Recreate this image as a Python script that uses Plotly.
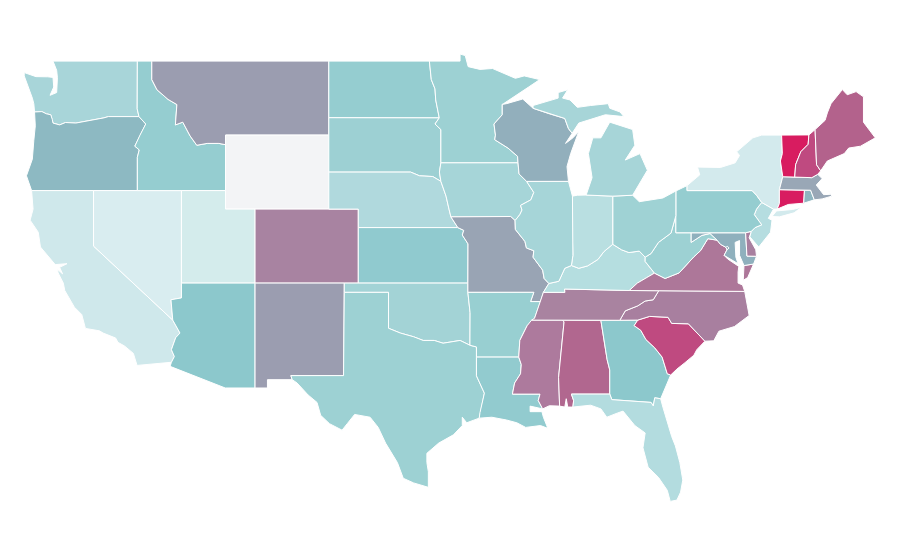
import plotly.graph_objects as go

# State outlines as (lon, lat), read off the picture / rough geography
WA = [(-124.7, 48.38), (-123.9, 48.16), (-123.1, 48.15), (-122.75, 48.12), (-122.7, 47.6), (-122.95, 47.15),
      (-122.5, 47.3), (-122.45, 47.7), (-122.45, 48.1), (-122.5, 48.5), (-122.75, 49.0), (-117.03, 49.0),
      (-117.04, 46.42), (-116.92, 46.0), (-119.0, 46.0), (-119.3, 45.93), (-120.0, 45.82), (-120.6, 45.73),
      (-121.2, 45.65), (-121.9, 45.68), (-122.3, 45.55), (-122.75, 45.65), (-122.8, 45.85), (-122.9, 46.1),
      (-123.2, 46.15), (-123.5, 46.27), (-124.0, 46.25), (-124.05, 46.7), (-124.15, 47.0), (-124.4, 47.6),
      (-124.7, 48.2)]
OR = [(-124.0, 46.25), (-123.5, 46.27), (-123.2, 46.15), (-122.9, 46.1), (-122.8, 45.85), (-122.75, 45.65),
      (-122.3, 45.55), (-121.9, 45.68), (-121.2, 45.65), (-120.6, 45.73), (-120.0, 45.82), (-119.3, 45.93),
      (-119.0, 46.0), (-116.92, 46.0), (-116.46, 45.6), (-116.85, 45.0), (-117.2, 44.4), (-116.9, 44.2),
      (-117.03, 43.8), (-117.03, 42.0), (-124.2, 42.0), (-124.55, 42.8), (-124.15, 43.7), (-124.05, 44.7),
      (-123.95, 45.5)]
CA = [(-124.2, 42.0), (-120.0, 42.0), (-120.0, 39.0), (-114.63, 35.0), (-114.14, 34.3), (-114.43, 34.05),
      (-114.72, 33.4), (-114.52, 33.03), (-114.72, 32.72), (-117.05, 32.55), (-117.3, 33.2), (-117.9, 33.6),
      (-118.35, 33.8), (-118.5, 34.03), (-119.35, 34.3), (-119.6, 34.42), (-120.55, 34.55), (-120.8, 35.3),
      (-121.3, 35.7), (-121.95, 36.6), (-122.05, 37.0), (-122.4, 37.55), (-122.45, 37.75), (-122.1, 37.5),
      (-122.3, 37.85), (-121.8, 38.05), (-122.6, 38.0), (-123.6, 38.95), (-123.75, 39.75), (-124.3, 40.4),
      (-124.1, 41.0)]
NV = [(-120.0, 42.0), (-114.04, 42.0), (-114.04, 36.2), (-114.75, 36.1), (-114.63, 35.0), (-120.0, 39.0)]
ID = [(-117.03, 49.0), (-116.05, 49.0), (-116.05, 48.0), (-115.7, 47.45), (-114.95, 46.93), (-114.35, 46.65),
      (-114.45, 45.55), (-113.95, 45.7), (-113.45, 44.95), (-113.0, 44.45), (-112.3, 44.55), (-111.5, 44.55),
      (-111.05, 44.48), (-111.05, 42.0), (-117.03, 42.0), (-117.03, 43.8), (-116.9, 44.2), (-117.2, 44.4),
      (-116.85, 45.0), (-116.46, 45.6), (-116.92, 46.0), (-117.04, 46.42)]
MT = [(-116.05, 49.0), (-104.05, 49.0), (-104.05, 45.0), (-111.05, 45.0), (-111.05, 44.48), (-111.5, 44.55),
      (-112.3, 44.55), (-113.0, 44.45), (-113.45, 44.95), (-113.95, 45.7), (-114.45, 45.55), (-114.35, 46.65),
      (-114.95, 46.93), (-115.7, 47.45), (-116.05, 48.0)]
WY = [(-111.05, 45.0), (-104.05, 45.0), (-104.05, 41.0), (-111.05, 41.0)]
UT = [(-114.04, 42.0), (-111.05, 42.0), (-111.05, 41.0), (-109.05, 41.0), (-109.05, 37.0), (-114.04, 37.0)]
AZ = [(-114.04, 37.0), (-109.05, 37.0), (-109.05, 31.33), (-111.07, 31.33), (-114.81, 32.5), (-114.72, 32.72),
      (-114.52, 33.03), (-114.72, 33.4), (-114.43, 34.05), (-114.14, 34.3), (-114.63, 35.0), (-114.75, 36.1),
      (-114.04, 36.2)]
CO = [(-109.05, 41.0), (-102.05, 41.0), (-102.05, 37.0), (-109.05, 37.0)]
NM = [(-109.05, 37.0), (-103.0, 37.0), (-103.05, 32.0), (-106.62, 32.0), (-106.53, 31.78), (-108.21, 31.78),
      (-108.21, 31.33), (-109.05, 31.33)]
ND = [(-104.05, 49.0), (-97.23, 49.0), (-97.1, 48.0), (-96.85, 47.5), (-96.8, 46.9), (-96.56, 45.93),
      (-104.05, 45.94)]
SD = [(-104.05, 45.94), (-96.56, 45.93), (-96.85, 45.6), (-96.45, 45.3), (-96.45, 43.5), (-96.55, 43.0),
      (-96.45, 42.5), (-97.0, 42.76), (-97.9, 42.8), (-98.5, 43.0), (-104.05, 43.0)]
NE = [(-104.05, 43.0), (-98.5, 43.0), (-97.9, 42.8), (-97.0, 42.76), (-96.45, 42.5), (-96.1, 41.7), (-95.9, 41.0),
      (-95.77, 40.58), (-95.3, 40.0), (-102.05, 40.0), (-102.05, 41.0), (-104.05, 41.0)]
KS = [(-102.05, 40.0), (-95.3, 40.0), (-94.9, 39.85), (-95.0, 39.6), (-94.61, 39.12), (-94.62, 37.0),
      (-102.05, 37.0)]
OK = [(-103.0, 37.0), (-94.62, 37.0), (-94.62, 36.5), (-94.47, 35.4), (-94.48, 33.64), (-95.15, 33.9),
      (-96.3, 33.75), (-96.9, 33.9), (-97.65, 33.9), (-98.3, 34.1), (-99.2, 34.3), (-100.0, 34.56),
      (-100.0, 36.5), (-103.0, 36.5)]
TX = [(-103.0, 36.5), (-100.0, 36.5), (-100.0, 34.56), (-99.2, 34.3), (-98.3, 34.1), (-97.65, 33.9), (-96.9, 33.9),
      (-96.3, 33.75), (-95.15, 33.9), (-94.48, 33.64), (-94.04, 33.55), (-94.04, 33.0),
      (-94.04, 31.99), (-93.5, 31.05), (-93.8, 30.0), (-93.85, 29.7), (-94.7, 29.45), (-95.0, 29.75), (-95.0, 29.3),
      (-95.6, 28.8), (-96.6, 28.35), (-97.4, 27.8), (-97.4, 27.3), (-97.3, 26.8), (-97.3, 25.96), (-98.3, 26.2),
      (-99.0, 26.45), (-99.4, 27.3), (-100.2, 28.35), (-100.7, 29.2), (-101.25, 29.75), (-102.3, 29.9),
      (-102.8, 29.4), (-103.15, 29.05), (-104.0, 29.4), (-104.6, 29.85), (-104.85, 30.55), (-105.45, 30.95),
      (-106.2, 31.6), (-106.53, 31.78), (-106.62, 32.0), (-103.05, 32.0)]
MN = [(-97.23, 49.0), (-95.15, 49.0), (-95.15, 49.38), (-94.8, 49.3), (-94.6, 48.7), (-93.8, 48.55), (-92.95, 48.6),
      (-92.0, 48.3), (-91.4, 48.07), (-90.8, 48.2), (-89.75, 48.0), (-90.5, 47.6), (-91.4, 47.1), (-92.2, 46.7),
      (-92.29, 46.66), (-92.29, 46.1), (-92.85, 45.6), (-92.75, 45.0), (-92.8, 44.75), (-91.9, 44.3),
      (-91.25, 43.85), (-91.22, 43.5), (-96.45, 43.5), (-96.45, 45.3), (-96.85, 45.6), (-96.56, 45.93),
      (-96.8, 46.9), (-96.85, 47.5), (-97.1, 48.0)]
IA = [(-96.45, 43.5), (-91.22, 43.5), (-91.15, 42.9), (-90.64, 42.5), (-90.15, 41.9), (-90.35, 41.5), (-91.05, 41.2),
      (-90.95, 40.95), (-91.1, 40.7), (-91.42, 40.38), (-91.72, 40.6), (-95.77, 40.58), (-95.9, 41.0), (-96.1, 41.7),
      (-96.45, 42.5), (-96.55, 43.0)]
MO = [(-95.77, 40.58), (-91.72, 40.6), (-91.42, 40.38), (-91.4, 39.9), (-90.75, 39.25), (-90.65, 38.9),
      (-90.15, 38.75), (-90.2, 38.4), (-89.55, 37.7), (-89.45, 37.25), (-89.13, 36.98), (-89.5, 36.5), (-89.7, 36.0),
      (-90.37, 36.0), (-90.15, 36.5), (-94.62, 36.5), (-94.62, 37.0), (-94.61, 39.12), (-95.0, 39.6), (-94.9, 39.85),
      (-95.3, 40.0)]
AR = [(-94.62, 36.5), (-90.15, 36.5), (-90.37, 36.0), (-89.7, 36.0), (-90.1, 35.1), (-90.6, 34.7), (-91.1, 33.9),
      (-91.17, 33.0), (-94.04, 33.0), (-94.04, 33.55), (-94.48, 33.64), (-94.47, 35.4)]
LA = [(-94.04, 33.0), (-91.17, 33.0), (-91.0, 32.6), (-91.05, 32.1), (-91.45, 31.6), (-91.6, 31.0), (-89.73, 31.0),
      (-89.85, 30.65), (-89.55, 30.2), (-90.4, 30.35), (-90.4, 30.05), (-89.6, 30.05), (-89.5, 29.75), (-89.2, 29.15),
      (-89.7, 29.3), (-90.7, 29.2), (-91.3, 29.45), (-92.0, 29.6), (-93.0, 29.75), (-93.85, 29.7), (-93.8, 30.0),
      (-93.5, 31.05), (-94.04, 31.99)]
MS = [(-90.3, 35.0), (-88.2, 35.0), (-88.1, 34.9), (-88.47, 31.9), (-88.4, 30.35), (-89.1, 30.37), (-89.55, 30.2),
      (-89.85, 30.65), (-89.73, 31.0), (-91.6, 31.0), (-91.45, 31.6), (-91.05, 32.1), (-91.0, 32.6), (-91.17, 33.0),
      (-91.1, 33.9), (-90.6, 34.7)]
AL = [(-88.2, 35.0), (-85.6, 34.98), (-85.18, 32.87), (-85.0, 32.3), (-85.0, 31.0), (-87.6, 31.0), (-87.45, 30.65),
      (-87.5, 30.3), (-87.85, 30.3), (-87.95, 30.75), (-88.05, 30.3), (-88.4, 30.35), (-88.47, 31.9), (-88.1, 34.9)]
GA = [(-85.6, 34.98), (-83.1, 35.0), (-83.35, 34.7), (-82.9, 34.45), (-82.55, 33.95), (-81.95, 33.5), (-81.45, 33.0),
      (-81.1, 32.1), (-80.87, 32.03), (-81.15, 31.5), (-81.55, 30.75), (-81.95, 30.8), (-82.05, 30.36), (-82.2, 30.55),
      (-84.86, 30.7), (-85.0, 31.0), (-85.0, 32.3), (-85.18, 32.87)]
FL = [(-87.6, 31.0), (-85.0, 31.0), (-84.86, 30.7), (-82.2, 30.55), (-82.05, 30.36), (-81.95, 30.8), (-81.55, 30.75),
      (-81.4, 30.3), (-80.8, 28.7), (-80.55, 28.2), (-80.25, 27.3), (-80.05, 26.35), (-80.2, 25.7), (-80.45, 25.27),
      (-80.9, 25.2), (-81.1, 25.8), (-81.7, 26.5), (-82.4, 27.05), (-82.75, 28.1), (-82.6, 28.9), (-83.3, 29.3),
      (-84.1, 30.08), (-84.5, 29.97), (-85.2, 29.75), (-85.6, 30.2), (-86.3, 30.4), (-87.5, 30.3), (-87.45, 30.65)]
SC = [(-83.1, 35.0), (-82.3, 35.2), (-81.05, 35.15), (-80.8, 34.82), (-79.67, 34.8), (-78.55, 33.86), (-79.1, 33.4),
      (-79.3, 33.1), (-79.9, 32.7), (-80.45, 32.35), (-80.87, 32.03), (-81.1, 32.1), (-81.45, 33.0), (-81.95, 33.5),
      (-82.55, 33.95), (-82.9, 34.45), (-83.35, 34.7)]
NC = [(-84.32, 34.99), (-83.1, 35.0), (-82.3, 35.2), (-81.05, 35.15), (-80.8, 34.82), (-79.67, 34.8), (-78.55, 33.86),
      (-77.95, 33.88), (-77.6, 34.4), (-76.55, 34.65), (-75.55, 35.25), (-75.85, 36.55), (-81.68, 36.59),
      (-82.05, 36.1), (-82.6, 36.03), (-83.1, 35.77), (-83.95, 35.5)]
TN = [(-90.3, 35.0), (-88.2, 35.0), (-85.6, 34.98), (-84.32, 34.99), (-83.95, 35.5), (-83.1, 35.77), (-82.6, 36.03),
      (-82.05, 36.1), (-81.68, 36.59), (-83.68, 36.6), (-88.07, 36.68), (-88.05, 36.5), (-89.5, 36.5), (-89.7, 36.0),
      (-90.1, 35.1)]
KY = [(-89.5, 36.5), (-88.05, 36.5), (-88.07, 36.68), (-83.68, 36.6), (-83.13, 37.0), (-81.97, 37.54), (-82.6, 38.17),
      (-82.6, 38.4), (-83.0, 38.73), (-83.7, 38.65), (-84.2, 38.8), (-84.8, 39.1), (-85.4, 38.7), (-85.8, 38.28),
      (-86.5, 37.93), (-87.1, 37.8), (-87.6, 37.95), (-88.05, 37.8), (-88.45, 37.1), (-89.13, 36.98)]
VA = [(-83.68, 36.6), (-81.68, 36.59), (-75.85, 36.55), (-76.0, 36.9), (-76.3, 37.0), (-76.3, 37.6), (-76.25, 37.9),
      (-77.0, 38.3), (-77.25, 38.5), (-77.05, 38.8), (-77.12, 38.93), (-77.5, 39.1), (-77.72, 39.32), (-78.35, 39.4),
      (-78.85, 38.75), (-79.3, 38.42), (-80.3, 37.55), (-81.25, 37.25), (-81.97, 37.54), (-83.13, 37.0), None,
      (-75.9, 37.95), (-75.25, 38.03), (-75.65, 37.3), (-75.95, 37.15)]
WV = [(-82.6, 38.17), (-81.97, 37.54), (-81.25, 37.25), (-80.3, 37.55), (-79.3, 38.42), (-78.85, 38.75), (-78.35, 39.4),
      (-77.72, 39.32), (-78.2, 39.68), (-78.75, 39.58), (-79.48, 39.2), (-79.48, 39.72), (-80.52, 39.72),
      (-80.52, 40.64), (-80.85, 39.7), (-81.7, 39.2), (-82.2, 38.6), (-82.6, 38.4)]
MD = [(-79.48, 39.72), (-75.79, 39.72), (-75.7, 38.46), (-75.05, 38.45), (-75.25, 38.03), (-75.9, 37.95),
      (-76.2, 38.5), (-76.2, 39.3), (-76.5, 39.2), (-76.45, 38.4), (-76.3, 38.05), (-77.25, 38.5), (-77.05, 38.8),
      (-77.12, 38.93), (-77.5, 39.1), (-77.72, 39.32), (-78.2, 39.68), (-78.75, 39.58), (-79.48, 39.2)]
DC = [(-77.12, 38.93), (-77.04, 39.0), (-76.91, 38.9), (-77.05, 38.8)]
DE = [(-75.79, 39.72), (-75.4, 39.8), (-75.55, 39.45), (-75.1, 38.8), (-75.05, 38.45), (-75.7, 38.46)]
NJ = [(-75.4, 39.8), (-75.15, 40.0), (-74.7, 40.15), (-75.2, 40.7), (-75.05, 41.0), (-74.7, 41.36), (-73.9, 41.0),
      (-74.25, 40.5), (-74.0, 40.4), (-74.1, 39.75), (-74.9, 38.95), (-75.5, 39.5)]
PA = [(-80.52, 41.98), (-79.76, 42.27), (-79.76, 42.0), (-75.35, 42.0), (-75.05, 41.75), (-74.7, 41.36), (-75.05, 41.0),
      (-75.2, 40.7), (-74.7, 40.15), (-75.15, 40.0), (-75.4, 39.8), (-75.79, 39.72), (-80.52, 39.72)]
NY = [(-79.76, 42.27), (-78.9, 42.85), (-79.05, 43.27), (-77.5, 43.25), (-76.5, 43.5), (-76.2, 43.9), (-76.4, 44.1),
      (-75.3, 44.85), (-74.7, 45.0), (-73.35, 45.0), (-73.3, 44.0), (-73.43, 43.6), (-73.27, 42.75), (-73.5, 42.05),
      (-73.5, 41.3), (-73.65, 41.0), (-73.9, 41.0), (-74.7, 41.36), (-75.05, 41.75), (-75.35, 42.0), (-79.76, 42.0),
      None, (-74.0, 40.6), (-73.7, 40.9), (-72.6, 40.98), (-72.0, 41.1), (-72.5, 40.8), (-73.5, 40.58)]
CT = [(-73.5, 42.05), (-71.8, 42.02), (-71.85, 41.32), (-72.9, 41.25), (-73.65, 41.0), (-73.5, 41.3)]
RI = [(-71.8, 42.02), (-71.38, 42.02), (-71.13, 41.5), (-71.85, 41.32)]
MA = [(-73.27, 42.75), (-72.46, 42.73), (-71.3, 42.7), (-70.9, 42.88), (-70.6, 42.65), (-71.0, 42.3), (-70.65, 41.95),
      (-70.5, 41.78), (-70.05, 41.8), (-70.2, 42.07), (-69.95, 41.7), (-70.6, 41.55), (-71.13, 41.5), (-71.38, 42.02),
      (-71.8, 42.02), (-73.5, 42.05)]
VT = [(-73.35, 45.0), (-71.5, 45.01), (-71.55, 44.5), (-72.05, 44.1), (-72.4, 43.4), (-72.46, 42.73), (-73.27, 42.75),
      (-73.43, 43.6), (-73.3, 44.0)]
NH = [(-71.5, 45.01), (-71.08, 45.3), (-70.98, 43.4), (-70.7, 43.07), (-70.9, 42.88), (-71.3, 42.7), (-72.46, 42.73),
      (-72.4, 43.4), (-72.05, 44.1), (-71.55, 44.5)]
ME = [(-71.08, 45.3), (-70.4, 45.8), (-70.25, 46.2), (-70.0, 46.7), (-69.23, 47.46), (-68.9, 47.18), (-68.3, 47.35),
      (-67.8, 47.07), (-67.8, 45.7), (-67.45, 45.3), (-67.0, 44.85), (-68.0, 44.4), (-68.8, 44.3), (-69.1, 44.0),
      (-69.8, 43.75), (-70.25, 43.6), (-70.7, 43.07), (-70.98, 43.4)]
OH = [(-84.8, 41.7), (-83.45, 41.75), (-83.0, 41.4), (-81.4, 41.6), (-80.52, 41.98), (-80.52, 40.64), (-80.85, 39.7),
      (-81.7, 39.2), (-82.2, 38.6), (-82.6, 38.4), (-83.0, 38.73), (-83.7, 38.65), (-84.2, 38.8), (-84.8, 39.1)]
IN = [(-87.53, 41.7), (-87.2, 41.75), (-86.6, 41.76), (-84.8, 41.7), (-84.8, 39.1), (-85.4, 38.7), (-85.8, 38.28),
      (-86.5, 37.93), (-87.1, 37.8), (-87.6, 37.95), (-87.5, 38.5), (-87.53, 39.35)]
IL = [(-90.64, 42.5), (-87.8, 42.5), (-87.53, 41.7), (-87.53, 39.35), (-87.5, 38.5), (-87.6, 37.95), (-88.05, 37.8),
      (-88.45, 37.1), (-89.13, 36.98), (-89.45, 37.25), (-89.55, 37.7), (-90.2, 38.4), (-90.15, 38.75), (-90.65, 38.9),
      (-90.75, 39.25), (-91.4, 39.9), (-91.42, 40.38), (-91.1, 40.7), (-90.95, 40.95), (-91.05, 41.2), (-90.35, 41.5),
      (-90.15, 41.9)]
WI = [(-92.29, 46.66), (-92.0, 46.7), (-90.9, 46.95), (-90.2, 46.45), (-89.1, 46.15), (-88.05, 45.9), (-87.8, 45.35),
      (-87.55, 45.1), (-88.0, 44.55), (-87.5, 44.85), (-87.1, 45.2), (-87.65, 44.0), (-87.9, 43.3), (-87.8, 42.5),
      (-90.64, 42.5), (-91.15, 42.9), (-91.22, 43.5), (-91.25, 43.85), (-91.9, 44.3), (-92.8, 44.75), (-92.75, 45.0),
      (-92.85, 45.6), (-92.29, 46.1)]
MI = [(-86.6, 41.76), (-84.8, 41.7), (-83.45, 41.75), (-83.1, 42.2), (-82.45, 43.1), (-82.95, 44.0), (-83.95, 43.65),
      (-83.3, 44.45), (-83.45, 45.3), (-85.0, 45.7), (-85.3, 45.3), (-85.6, 44.85), (-86.15, 44.85), (-86.45, 44.0),
      (-86.2, 42.7), None,
      (-90.2, 46.45), (-89.1, 46.15), (-88.05, 45.9), (-87.8, 45.35), (-87.55, 45.1), (-87.1, 45.65), (-86.35, 45.85),
      (-85.3, 46.1), (-84.05, 46.0), (-84.3, 46.25), (-85.0, 46.45), (-85.1, 46.7), (-86.3, 46.6), (-87.2, 46.5),
      (-87.7, 46.9), (-88.2, 47.0), (-87.85, 47.45), (-88.5, 47.3), (-88.5, 47.0), (-90.2, 46.6)]

states = ["WA", "OR", "CA", "NV", "ID", "MT", "WY", "UT", "AZ", "CO", "NM", "ND", "SD", "NE", "KS", "OK", "TX",
          "MN", "IA", "MO", "AR", "LA", "MS", "AL", "GA", "FL", "SC", "NC", "TN", "KY", "VA", "WV", "MD", "DC",
          "DE", "NJ", "PA", "NY", "CT", "RI", "MA", "VT", "NH", "ME", "OH", "IN", "IL", "WI", "MI"]
outlines = [WA, OR, CA, NV, ID, MT, WY, UT, AZ, CO, NM, ND, SD, NE, KS, OK, TX,
            MN, IA, MO, AR, LA, MS, AL, GA, FL, SC, NC, TN, KY, VA, WV, MD, DC,
            DE, NJ, PA, NY, CT, RI, MA, VT, NH, ME, OH, IN, IL, WI, MI]
colors = ["#a8d5d9", "#8db9c2", "#cfe8eb", "#d9edf0", "#95cdd0", "#9b9db0", "#f3f4f6", "#d4ecec", "#8cc8cc",
          "#a883a1", "#9b9db0", "#95cdd0", "#9dd0d3", "#b0d9dd", "#90cacf", "#a3d3d6", "#9dd1d3",
          "#9dd1d3", "#a6d5d8", "#99a4b4", "#98cfd1", "#92cbcf", "#ad7a9d", "#b1678f", "#8cc8cc", "#b3dcdf",
          "#bf4a80", "#a87f9f", "#a983a0", "#b5dee0", "#ad7799", "#9dd1d3", "#8fb0bd", "#8fb0bd",
          "#a87f9f", "#b5dde0", "#95cdd0", "#d3eaed", "#d81c60", "#8fb5c0", "#99a7b6", "#d81c60", "#bf4a80",
          "#b3628c", "#9fd2d4", "#b9dfe1", "#a6d5d8", "#92afbc", "#a7d5d8"]

fig = go.Figure()
for name, outline, color in zip(states, outlines, colors):
    lons = [None if p is None else p[0] for p in outline]
    lats = [None if p is None else p[1] for p in outline]
    # close each part of the outline
    parts_x, parts_y, start = [], [], 0
    for i in range(len(lons) + 1):
        if i == len(lons) or lons[i] is None:
            parts_x += lons[start:i] + [lons[start], None]
            parts_y += lats[start:i] + [lats[start], None]
            start = i + 1
    fig.add_trace(go.Scatter(x=parts_x, y=parts_y, name=name, mode="lines", fill="toself", fillcolor=color,
                             line=dict(color="white", width=1), hoverinfo="name", showlegend=False))

# ranges allow for the 8px page margin
fig.update_xaxes(visible=False, range=[-125.8, -64.78])
fig.update_yaxes(visible=False, range=[21.6, 51.87])
fig.update_layout(width=900, height=560, margin=dict(l=0, r=0, t=0, b=0),
                  paper_bgcolor="white", plot_bgcolor="white")

fig.write_html("out.html")
